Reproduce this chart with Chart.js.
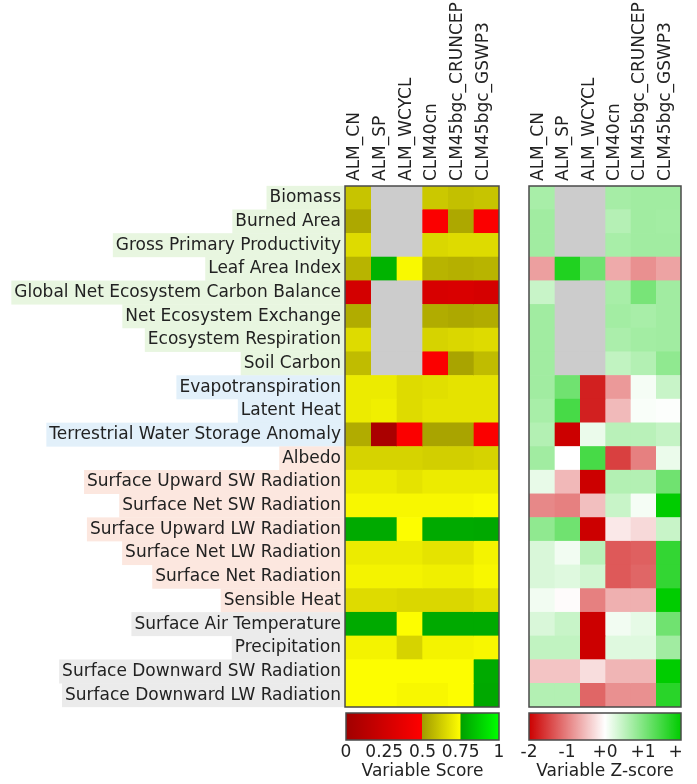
<!DOCTYPE html>
<html>
<head>
<meta charset="utf-8">
<script src="https://cdn.jsdelivr.net/npm/chart.js@4.4.0/dist/chart.umd.min.js"></script>
<style>
  body { margin: 0; background: #fff; width: 697px; height: 784px; overflow: hidden; position: relative; }
  canvas { position: absolute; }
</style>
</head>
<body>
<canvas id="score" width="505" height="712" style="left:0;top:0"></canvas>
<canvas id="zscore" width="177" height="712" style="left:520px;top:0"></canvas>
<canvas id="scoreBar" width="200" height="76" style="left:320px;top:708px"></canvas>
<canvas id="zBar" width="178" height="76" style="left:505px;top:708px"></canvas>
<script>
const models = ["ALM_CN", "ALM_SP", "ALM_WCYCL", "CLM40cn", "CLM45bgc_CRUNCEP", "CLM45bgc_GSWP3"];

const variables = [
	"Biomass", "Burned Area", "Gross Primary Productivity", "Leaf Area Index",
	"Global Net Ecosystem Carbon Balance", "Net Ecosystem Exchange", "Ecosystem Respiration", "Soil Carbon",
	"Evapotranspiration", "Latent Heat", "Terrestrial Water Storage Anomaly",
	"Albedo", "Surface Upward SW Radiation", "Surface Net SW Radiation", "Surface Upward LW Radiation",
	"Surface Net LW Radiation", "Surface Net Radiation", "Sensible Heat",
	"Surface Air Temperature", "Precipitation", "Surface Downward SW Radiation", "Surface Downward LW Radiation",
];

// section of each variable (ecosystem, hydrology, energy, forcing)
const sections = [
	"eco", "eco", "eco", "eco", "eco", "eco", "eco", "eco",
	"hyd", "hyd", "hyd",
	"rad", "rad", "rad", "rad", "rad", "rad", "rad",
	"frc", "frc", "frc", "frc",
];

// overall scores, one array per model (null = no data)
const scoreALM_CN = [0.60, 0.53, 0.66, 0.56, 0.27, 0.54, 0.66, 0.58, 0.70, 0.70, 0.54, 0.64, 0.70, 0.73, 0.775, 0.70, 0.72, 0.66, 0.775, 0.72, 0.745, 0.745];
const scoreALM_SP = [null, null, null, 0.80, null, null, null, null, 0.70, 0.71, 0.05, 0.64, 0.70, 0.73, 0.775, 0.70, 0.72, 0.66, 0.775, 0.72, 0.745, 0.745];
const scoreALM_WCYCL = [null, null, null, 0.735, null, null, null, null, 0.66, 0.66, 0.48, 0.64, 0.68, 0.73, 0.745, 0.70, 0.72, 0.65, 0.745, 0.64, 0.745, 0.73];
const scoreCLM40cn = [0.61, 0.48, 0.65, 0.56, 0.29, 0.54, 0.64, 0.48, 0.67, 0.68, 0.52, 0.63, 0.70, 0.73, 0.775, 0.68, 0.71, 0.65, 0.775, 0.72, 0.745, 0.73];
const scoreCRUNCEP = [0.59, 0.53, 0.66, 0.55, 0.30, 0.53, 0.65, 0.52, 0.68, 0.68, 0.52, 0.63, 0.70, 0.73, 0.775, 0.68, 0.71, 0.65, 0.775, 0.72, 0.745, 0.745];
const scoreGSWP3 = [0.60, 0.48, 0.66, 0.56, 0.28, 0.54, 0.66, 0.58, 0.68, 0.68, 0.48, 0.64, 0.70, 0.74, 0.77, 0.72, 0.73, 0.67, 0.775, 0.73, 0.775, 0.77];

// z-scores, one array per model
const zALM_CN = [0.68, 0.74, 0.74, -0.75, 0.43, 0.74, 0.74, 0.74, 0.74, 0.68, 0.60, 0.74, 0.18, -0.93, 0.87, 0.30, 0.30, 0.10, 0.30, 0.49, -0.46, 0.60];
const zALM_SP = [null, null, null, 1.75, null, null, null, null, 1.12, 1.44, -2.0, 0.0, -0.56, -1.0, 1.12, 0.10, 0.25, -0.03, 0.43, 0.49, -0.46, 0.60];
const zALM_WCYCL = [null, null, null, 1.12, null, null, null, null, -1.75, -1.75, 0.16, 1.44, -2.0, -0.50, -2.0, 0.55, 0.36, -1.0, -2.0, -2.0, -0.27, -1.2];
const zCLM40cn = [0.70, 0.58, 0.68, -0.67, 0.68, 0.72, 0.66, 0.49, -0.80, -0.54, 0.55, -1.5, 0.60, 0.43, -0.18, -1.3, -1.3, -0.62, 0.10, 0.25, -0.58, -0.87];
const zCRUNCEP = [0.74, 0.74, 0.74, -0.87, 1.06, 0.68, 0.72, 0.60, 0.08, 0.05, 0.55, -1.0, 0.60, 0.08, -0.30, -1.25, -1.2, -0.62, 0.20, 0.25, -0.58, -0.87];
const zGSWP3 = [0.74, 0.72, 0.74, -0.72, 0.74, 0.74, 0.74, 0.87, 0.43, 0.02, 0.46, 0.16, 1.12, 2.0, 0.43, 1.6, 1.6, 2.0, 1.12, 0.74, 2.0, 1.68];

const scoreTicks = [0, 0.25, 0.5, 0.75, 1];
const scoreTickLabels = ["0", "0.25", "0.5", "0.75", "1"];
const zTicks = [-2, -1, 0, 1, 2];
const zTickLabels = ["-2", "-1", "+0", "+1", "+2"];

const scoreSeries = [scoreALM_CN, scoreALM_SP, scoreALM_WCYCL, scoreCLM40cn, scoreCRUNCEP, scoreGSWP3];
const zSeries = [zALM_CN, zALM_SP, zALM_WCYCL, zCLM40cn, zCRUNCEP, zGSWP3];

const sectionColors = { eco: "#e8f6e0", hyd: "#e2f0fa", rad: "#fce7df", frc: "#ebebeb" };
const textColor = "#222";
const missingColor = "#cccccc";

Chart.defaults.responsive = false;
Chart.defaults.maintainAspectRatio = false;
Chart.defaults.animation = false;
Chart.defaults.devicePixelRatio = 1;
Chart.defaults.font.family = "'DejaVu Sans', sans-serif";
Chart.defaults.color = textColor;
Chart.defaults.plugins.legend.display = false;
Chart.defaults.plugins.tooltip.enabled = false;

function rgb(lo, hi, t) {
	const c = lo.map((l, i) => Math.round(l + (hi[i] - l) * t));
	return "rgb(" + c.join(",") + ")";
}

function scoreColor(v) {
	if (v === null || v === undefined) return missingColor;
	if (v < 0.5) return rgb([160, 0, 0], [255, 0, 0], v / 0.5);
	if (v < 0.75) return rgb([162, 156, 0], [255, 255, 0], (v - 0.5) / 0.25);
	return rgb([0, 160, 0], [0, 255, 0], Math.min(1, (v - 0.75) / 0.25));
}

function zColor(z) {
	if (z === null || z === undefined) return missingColor;
	const t = Math.min(1, Math.abs(z) / 2);
	if (z < 0) return rgb([255, 255, 255], [204, 0, 0], t);
	return rgb([255, 255, 255], [0, 204, 0], t);
}

const framePlugin = {
	id: "frame",
	afterDatasetsDraw(chart) {
		const a = chart.chartArea;
		const c = chart.ctx;
		c.save();
		c.strokeStyle = "#4a4a4a";
		c.lineWidth = 1.5;
		c.strokeRect(a.left, a.top, a.right - a.left, a.bottom - a.top);
		c.restore();
	},
};

function heatmap(id, series, colorFn, showRows, pad) {
	return new Chart(document.getElementById(id), {
		type: "bar",
		data: {
			labels: variables,
			datasets: series.map((vals, j) => ({
				label: models[j],
				data: vals.map(() => [j, j + 1]),
				backgroundColor: (ctx) => colorFn(vals[ctx.dataIndex]),
				borderWidth: 0,
				grouped: false,
				categoryPercentage: 1,
				barPercentage: 1,
			})),
		},
		options: {
			indexAxis: "y",
			layout: { padding: pad },
			scales: {
				x: {
					type: "linear",
					position: "top",
					min: 0,
					max: models.length,
					grid: { display: false, drawTicks: false },
					border: { display: false },
					afterBuildTicks: (s) => {
						s.ticks = models.map((m, i) => ({ value: i + 0.5 }));
					},
					afterFit: (s) => {
						s.height = 186;
						s.paddingLeft = 0;
						s.paddingRight = 0;
					},
					ticks: {
						autoSkip: false,
						minRotation: 90,
						maxRotation: 90,
						padding: 5,
						font: { size: 17, lineHeight: 0.18 },
						callback: (v, i) => models[i],
					},
				},
				y: {
					display: showRows,
					grid: { display: false, drawTicks: false },
					border: { display: false },
					afterFit: (s) => {
						if (!showRows) return;
						s.width = 345;
						s.paddingTop = 0;
						s.paddingBottom = 0;
					},
					ticks: {
						autoSkip: false,
						padding: 4,
						font: { size: 17 },
						showLabelBackdrop: true,
						backdropColor: (ctx) => sectionColors[sections[ctx.index]],
						backdropPadding: { top: 1.8, bottom: 1.8, left: 3, right: 3 },
					},
				},
			},
		},
		plugins: [framePlugin],
	});
}

function colorbar(id, min, max, tickVals, tickText, colorFn, title, pad) {
	return new Chart(document.getElementById(id), {
		type: "bar",
		data: {
			labels: [""],
			datasets: [
				{
					data: [[min, max]],
					backgroundColor: (ctx) => {
						const a = ctx.chart.chartArea;
						if (!a) return null;
						const g = ctx.chart.ctx.createLinearGradient(a.left, 0, a.right, 0);
						for (let i = 0; i <= 300; i++) {
							g.addColorStop(i / 300, colorFn(min + ((max - min) * i) / 300 - (i === 300 ? 1e-9 : 0)));
						}
						return g;
					},
					borderWidth: 0,
					categoryPercentage: 1,
					barPercentage: 1,
				},
			],
		},
		options: {
			indexAxis: "y",
			layout: { padding: pad },
			scales: {
				x: {
					type: "linear",
					min: min,
					max: max,
					grid: { display: false, drawTicks: false },
					border: { display: false },
					afterBuildTicks: (s) => {
						s.ticks = tickVals.map((v) => ({ value: v }));
					},
					afterFit: (s) => {
						s.height = 44;
						s.paddingLeft = 0;
						s.paddingRight = 0;
					},
					ticks: {
						autoSkip: false,
						maxRotation: 0,
						padding: 2,
						font: { size: 17 },
						callback: (v, i) => tickText[i],
					},
					title: {
						display: true,
						text: title,
						font: { size: 17 },
						padding: { top: 0, bottom: 2 },
					},
				},
				y: { display: false },
			},
		},
		plugins: [framePlugin],
	});
}

heatmap("score", scoreSeries, scoreColor, true, { left: 0, top: 0, right: 6, bottom: 5 });
heatmap("zscore", zSeries, zColor, false, { left: 9, top: 0, right: 16, bottom: 5 });
colorbar("scoreBar", 0, 1, scoreTicks, scoreTickLabels, scoreColor, "Variable Score", { left: 26, top: 5, right: 21, bottom: 0 });
colorbar("zBar", -2, 2, zTicks, zTickLabels, zColor, "Variable Z-score", { left: 24, top: 5, right: 2, bottom: 0 });
</script>
</body>
</html>
